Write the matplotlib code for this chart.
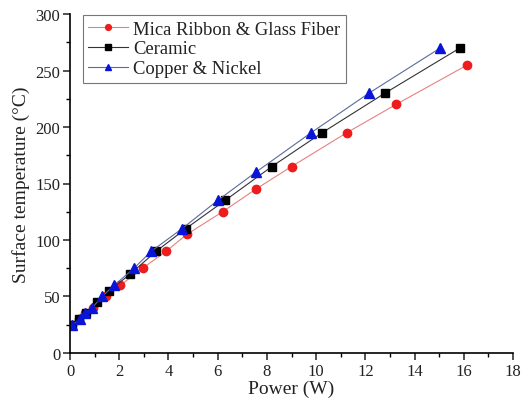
import numpy as np
import matplotlib
matplotlib.use("Agg")
import matplotlib.pyplot as plt
from matplotlib.ticker import MultipleLocator

plt.rcParams['font.family'] = ['Liberation Serif', 'DejaVu Serif']

# Surface temperature vs. heater power for three heater types
micaPower = [0.1, 0.35, 0.6, 0.95, 1.45, 2.05, 2.95, 3.9, 4.75, 6.2, 7.55, 9.0, 11.25, 13.25, 16.15]
micaTemp = [25, 30, 35, 40, 50, 60, 75, 90, 105, 125, 145, 165, 195, 220, 255]

ceramicPower = [0.1, 0.35, 0.65, 1.1, 1.6, 2.45, 3.5, 4.7, 6.3, 8.2, 10.25, 12.8, 15.85]
ceramicTemp = [25, 30, 35, 45, 55, 70, 90, 110, 135, 165, 195, 230, 270]

copperPower = [0.1, 0.4, 0.6, 0.9, 1.3, 1.8, 2.6, 3.3, 4.55, 6.0, 7.55, 9.8, 12.15, 15.05]
copperTemp = [25, 30, 35, 40, 50, 60, 75, 90, 110, 135, 160, 195, 230, 270]

labels = ["Mica Ribbon & Glass Fiber", "Ceramic", "Copper & Nickel"]

fig = plt.figure(figsize=(5.28, 4.10), dpi=100)
ax = fig.add_axes([0.1326, 0.1366, 0.839, 0.8268])

ax.plot(micaPower, micaTemp, color='#e88080', lw=0.8, marker='o', ms=6,
        mfc='#ee1c1c', mec='#ee1c1c', label=labels[0])
ax.plot(ceramicPower, ceramicTemp, color='#333333', lw=0.8, marker='s', ms=5.5,
        mfc='black', mec='black', label=labels[1])
ax.plot(copperPower, copperTemp, color='#5a6a9a', lw=0.8, marker='^', ms=7,
        mfc='#0a14d8', mec='#0a14d8', label=labels[2])

ax.set_xlim(0, 18)
ax.set_ylim(0, 300)
ax.xaxis.set_major_locator(MultipleLocator(2))
ax.xaxis.set_minor_locator(MultipleLocator(1))
ax.yaxis.set_major_locator(MultipleLocator(50))
ax.yaxis.set_minor_locator(MultipleLocator(25))

for side in ['top', 'right']:
    ax.spines[side].set_visible(False)
for side in ['left', 'bottom']:
    ax.spines[side].set_linewidth(1.2)

ax.tick_params(which='major', direction='out', length=5, width=1.1, labelsize=12,
               colors='#222222', pad=2)
ax.tick_params(which='minor', direction='out', length=3, width=1.0)

ax.set_xlabel("Power (W)", fontsize=14, color='#222222', labelpad=1)
ax.set_ylabel("Surface temperature (\u00b0C)", fontsize=14, color='#222222', labelpad=4)

legendFont = {'family': 'Liberation Serif', 'size': 13.4}
leg = ax.legend(loc='upper left', bbox_to_anchor=(0.029, 0.997), prop=legendFont, frameon=True,
                fancybox=False, edgecolor='#555555', handlelength=2.1, handletextpad=0.3,
                borderpad=0.3, borderaxespad=0.0, labelspacing=0.15, markerscale=0.7)
leg.get_frame().set_linewidth(0.8)
for t in leg.get_texts():
    t.set_color('#222222')

fig.savefig("out.png", dpi=100)
